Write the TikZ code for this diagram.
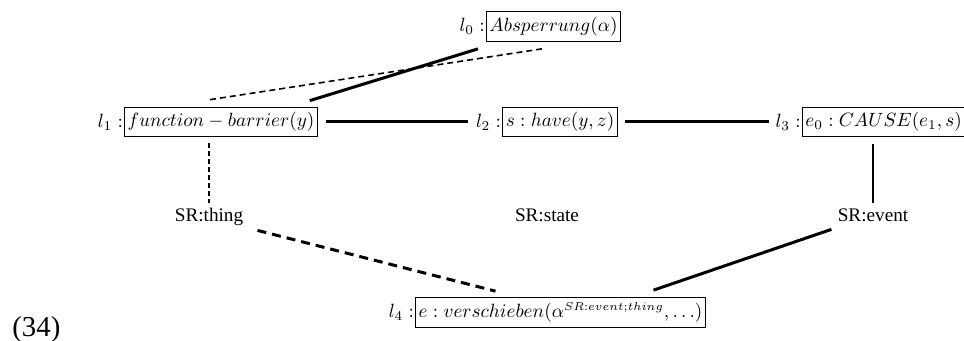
\documentclass[tikz,border=0pt]{standalone}
\usepackage[no-math]{fontspec}
\newfontfamily\srfont{Liberation Serif}
% small superscript tag in math italic
\newcommand\srtag[1]{\mbox{\fontsize{6}{6}\selectfont$#1$}}

\begin{document}
\begin{tikzpicture}[x=0.5pt,y=-0.5pt,
  frame/.style={draw, line width=0.5pt, inner xsep=1.5pt, inner ysep=2.8pt,
                text height=7.4pt, text depth=2.5pt,
                scale=0.96, transform shape},
  lab/.style={anchor=east, inner sep=0pt, xshift=-0.5pt,
              scale=0.96, transform shape},
  sr/.style={font=\srfont\fontsize{9.6}{11}\selectfont, inner sep=0pt,
             text height=7pt, text depth=2pt},
  link/.style={line width=1.5pt},
  weaklink/.style={line width=0.8pt, dash pattern=on 3pt off 2pt},
  droplink/.style={line width=0.8pt, dash pattern=on 2.5pt off 1.5pt},
  thinlink/.style={line width=0.8pt},
  dashlink/.style={line width=1.5pt, dash pattern=on 4.5pt off 3pt}]
\useasboundingbox (0,0) rectangle (964,341);

% boxed predications with their labels
\node[frame] (b0) at (553.5,26.5) {$Absperrung(\alpha)$};
\node[lab] (t0) at (b0.west) {$l_0:$};
\node[frame] (b1) at (221,122) {$function-barrier(y)$};
\node[lab] (t1) at (b1.west) {$l_1:$};
\node[frame] (b2) at (560,122) {$s:have(y,z)$};
\node[lab] (t2) at (b2.west) {$l_2:$};
\node[frame, anchor=west] (b3) at (802,122) {$e_0:CAUSE(e_1,s)$};
\node[lab] (t3) at (b3.west) {$l_3:$};
\node[frame] (b4) at (560.5,312.5) {$e:verschieben(\alpha^{\srtag{SR{:}event{;}thing}},\ldots)$};
\node[lab] (t4) at (b4.west) {$l_4:$};

% sortal restrictions
\node[sr] (sthing) at (209,217) {SR:thing};
\node[sr] (sstate) at (547,217) {SR:state};
\node[sr] (sevent) at (873,217) {SR:event};

% example number
\node[font=\srfont\fontsize{14.4}{16}\selectfont, anchor=base west, inner sep=0pt] (num) at (12,337) {(34)};

% connections
\draw[link] ([shift={(-8,-6)}]b1.north east) -- ([shift={(-8,7)}]b0.south west);
\draw[weaklink] ([shift={(-11,-7)}]b1.north) -- ([shift={(-11.5,7)}]b0.south);
\draw[link, shorten <=4pt, shorten >=4pt] (b1.east) -- (t2.west);
\draw[link, shorten <=3.5pt, shorten >=3pt] (b2.east) -- (t3.west);

\coordinate (v1) at (b1.south -| sthing.north);
\draw[droplink, shorten <=3pt, shorten >=2.5pt] (v1) -- (sthing.north);
\coordinate (v3) at (b3.south -| sevent.north);
\draw[thinlink, shorten <=3.5pt, shorten >=2.5pt] (v3) -- (sevent.north);

\draw[dashlink] ([shift={(14,4)}]sthing.south east) -- ([shift={(-65,-6)}]b4.north);
\draw[link] ([shift={(93,-7)}]b4.north) -- ([shift={(-6,3)}]sevent.south west);
\end{tikzpicture}
\end{document}
